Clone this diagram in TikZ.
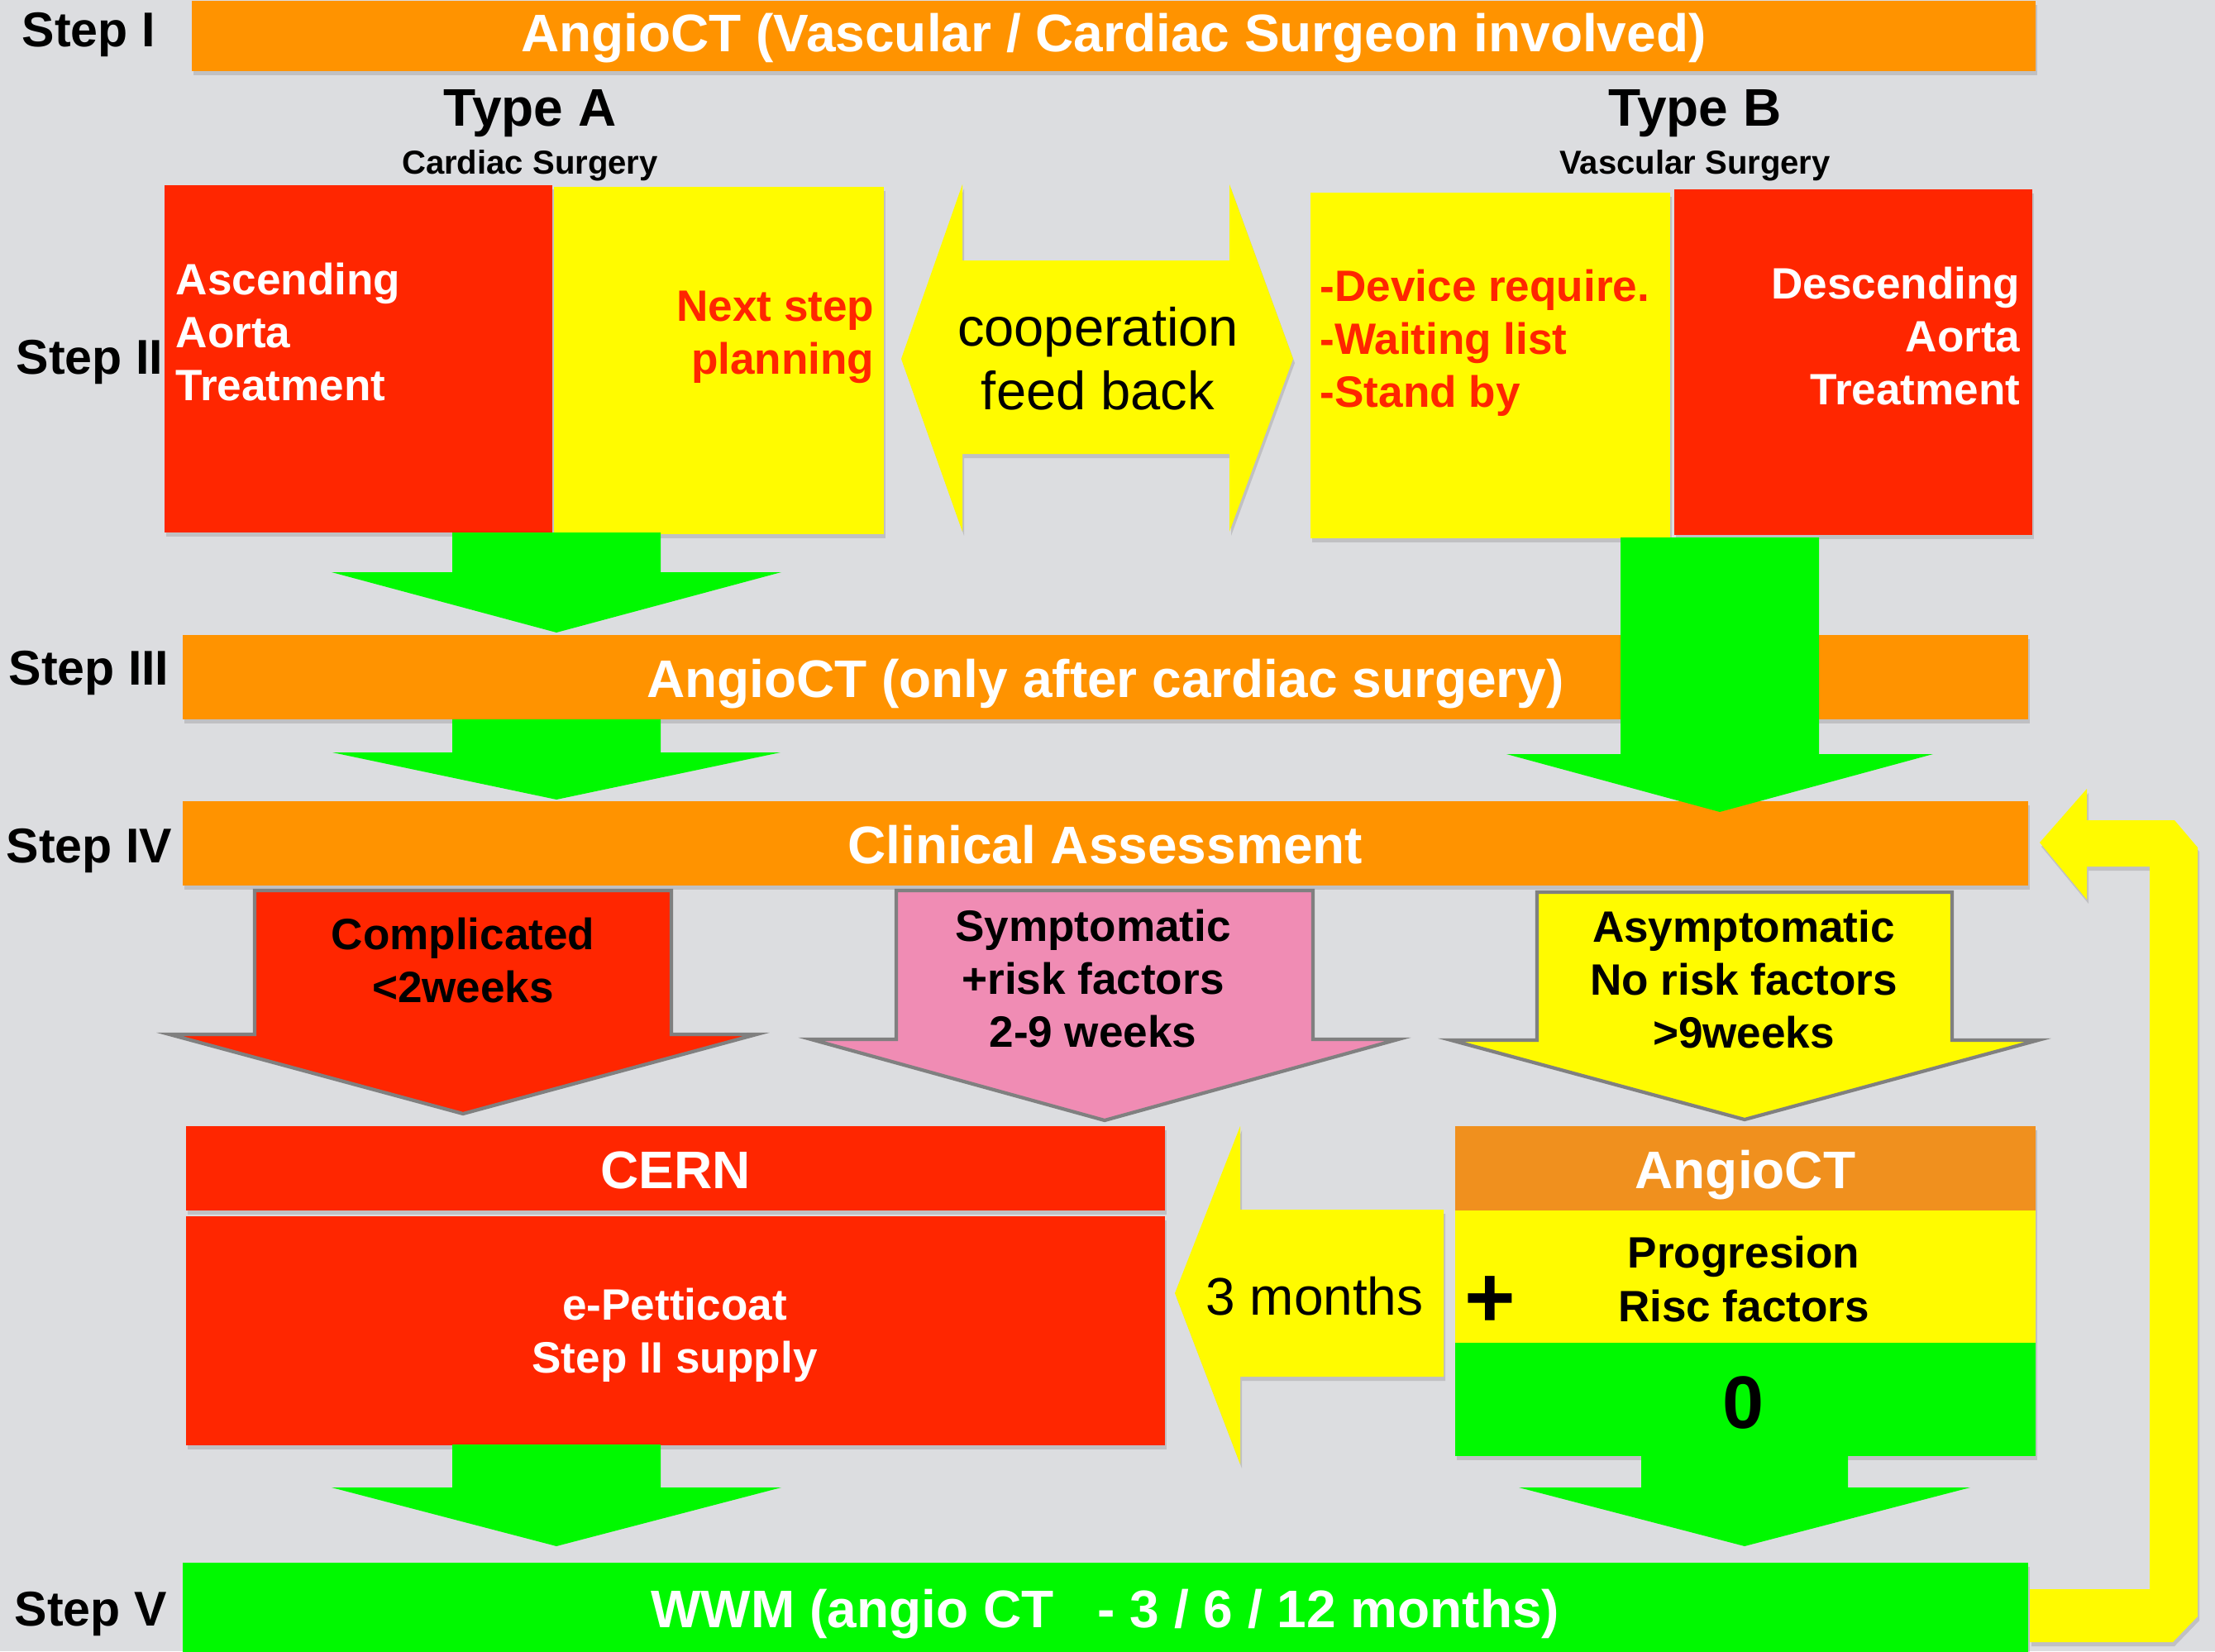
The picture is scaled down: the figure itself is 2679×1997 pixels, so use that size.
\documentclass[tikz,border=0pt]{standalone}
\usepackage{fontspec}
\setmainfont{Liberation Sans}
\usetikzlibrary{positioning,shadows}
\definecolor{bgray}{RGB}{220,221,224}
\definecolor{orange}{RGB}{255,147,0}
\definecolor{darkorange}{RGB}{240,144,30}
\definecolor{red}{RGB}{255,38,0}
\definecolor{yellow}{RGB}{255,251,0}
\definecolor{green}{RGB}{0,249,0}
\definecolor{pink}{RGB}{240,140,180}
\definecolor{edgegray}{RGB}{128,128,128}

\newcommand{\fbig}{\fontsize{18.2}{21}\selectfont}
\newcommand{\fmid}{\fontsize{15.1}{18.2}\selectfont}
\newcommand{\fstep}{\fontsize{16.8}{20}\selectfont}
\newcommand{\fsub}{\fontsize{11.4}{13}\selectfont}
\newcommand{\fcoop}{\fontsize{18.5}{21.9}\selectfont}
% block arrow pointing down: style, centre x, top, head base, tip, half shaft, half head
\newcommand{\dnarrow}[7]{%
  \fill[#1] (#2-#6,#3) -- (#2+#6,#3) -- (#2+#6,#4) -- (#2+#7,#4)
    -- (#2,#5) -- (#2-#7,#4) -- (#2-#6,#4) -- cycle;}

\begin{document}
\begin{tikzpicture}[x=0.01cm,y=-0.01cm]
  \tikzstyle{shade}=[drop shadow={shadow xshift=0.02cm,shadow yshift=-0.05cm,opacity=0.3}]
  \tikzstyle{bar}=[rectangle,anchor=north west,inner sep=0pt,minimum width=22.31cm,minimum height=1.02cm,fill=orange,text=white,font=\bfseries\fbig,text height=14.2pt,text depth=0pt,shade]
  \tikzstyle{box}=[rectangle,anchor=north west,inner sep=0pt,shade]
  \tikzstyle{header}=[box,minimum height=1.02cm,text=white,font=\bfseries\fbig,text height=14.2pt,text depth=0pt]
  \tikzstyle{steplabel}=[anchor=west,inner sep=0pt,font=\bfseries\fstep]
  \tikzstyle{txt}=[inner sep=0pt,font=\bfseries\fmid,align=center]
  \tikzstyle{regtext}=[inner sep=0pt,font=\fcoop,align=center]
  \tikzstyle{outlined}=[draw=edgegray,line width=1.2pt,line join=miter]

  \fill[bgray] (0,0) rectangle (2679,1997);
  \useasboundingbox (0,0) rectangle (2679,1997);

  \node[steplabel] (L1) at (26,42) {Step I};
  \node[steplabel] (L2) at (19,438) {Step II};
  \node[steplabel] (L3) at (10,814) {Step III};
  \node[steplabel] (L4) at (7,1029) {Step IV};
  \node[steplabel] (L5) at (17,1952) {Step V};

  \node[bar,minimum width=22.29cm,minimum height=0.85cm,text height=10.8pt] (S1) at (231,0) {AngioCT (Vascular / Cardiac Surgeon involved)};

  \node[inner sep=0pt,font=\bfseries\fbig] (TA) at (641,137) {Type A};
  \node[inner sep=0pt,font=\bfseries\fsub] (CS) at (641,200) {Cardiac Surgery};
  \node[inner sep=0pt,font=\bfseries\fbig] (TB) at (2050,137) {Type B};
  \node[inner sep=0pt,font=\bfseries\fsub] (VS) at (2050,200) {Vascular Surgery};

  \node[box,fill=red,minimum width=4.69cm,minimum height=4.20cm] (A1) at (198,223) {};
  \node[box,fill=yellow,minimum width=3.99cm,minimum height=4.20cm] (A2) at (669,225) {};
  \node[box,fill=yellow,minimum width=4.35cm,minimum height=4.18cm] (B1) at (1584,232) {};
  \node[box,fill=red,minimum width=4.33cm,minimum height=4.18cm] (B2) at (2024,228) {};

  \node[txt,anchor=west,align=left,text=white] (A1t) at (212,402) {Ascending\\Aorta\\Treatment};
  \node[txt,anchor=east,align=right,text=red] (A2t) at (1058,408) {Next step\\planning};
  \node[txt,anchor=west,align=left,text=red] (B1t) at (1596,415) {-Device require.\\-Waiting list\\-Stand by};
  \node[txt,anchor=east,align=right,text=white] (B2t) at (2444,407) {Descending\\Aorta\\Treatment};

  \fill[yellow,shade] (1090,434) -- (1164,223) -- (1164,315) -- (1487,315) -- (1487,223)
    -- (1564,434) -- (1487,643) -- (1487,549) -- (1164,549) -- (1164,643) -- cycle;
  \node[regtext] (CF) at (1328,434) {cooperation\\feed back};

  \dnarrow{green}{673}{644}{692}{765}{126}{272}

  \node[bar] (S3) at (220,767) {AngioCT (only after cardiac surgery)};
  \node[bar] (S4) at (220,968) {Clinical Assessment};

  \dnarrow{green}{673}{870}{910}{967}{126}{271}
  \dnarrow{green}{2080}{650}{912}{982}{120}{258}

  \dnarrow{red,outlined}{560}{1077}{1251}{1347}{252}{355}
  \dnarrow{pink,outlined}{1336}{1077}{1257}{1355}{252}{355}
  \dnarrow{yellow,outlined}{2110}{1079}{1258}{1354}{251}{355}
  \node[txt] (CO) at (560,1162) {Complicated\\<2weeks};
  \node[txt] (SY) at (1322,1184) {Symptomatic\\+risk factors\\2-9 weeks};
  \node[txt] (AS) at (2109,1185) {Asymptomatic\\No risk factors\\>9weeks};

  \node[header,fill=red,minimum width=11.84cm] (C1) at (224,1361) {CERN};
  \node[box,fill=red,minimum width=11.84cm,minimum height=2.77cm] (C2) at (224,1470) {};
  \node[txt,text=white] (C2t) at (816,1615) {e-Petticoat\\Step II supply};

  \node[header,fill=darkorange,minimum width=7.02cm] (D1) at (1759,1361) {AngioCT};
  \node[box,fill=yellow,minimum width=7.02cm,minimum height=1.60cm] (D2) at (1759,1463) {};
  \node[box,fill=green,minimum width=7.02cm,minimum height=1.37cm] (D3) at (1759,1623) {};
  \node[txt] (D2t) at (2109,1547) {Progresion\\Risc factors};
  \node[inner sep=0pt,font=\bfseries\fontsize{25.6}{28}\selectfont] (D3t) at (2109,1696) {0};
  \node[inner sep=0pt,font=\bfseries\fontsize{30}{30}\selectfont] (PL) at (1802,1575) {+};

  \fill[yellow,shade] (1421,1564) -- (1500,1362) -- (1500,1463) -- (1746,1463) -- (1746,1665)
    -- (1500,1665) -- (1500,1771) -- cycle;
  \node[regtext,font=\fbig] (TM) at (1590,1568) {3 months};

  \dnarrow{green}{673}{1747}{1799}{1870}{126}{272}
  \dnarrow{green}{2110}{1760}{1799}{1870}{125}{273}

  \fill[yellow,shade] (2455,1922) -- (2600,1922) -- (2600,1048) -- (2524,1048) -- (2524,1088)
    -- (2467,1019) -- (2524,954) -- (2524,992) -- (2630,992) -- (2658,1025) -- (2658,1955)
    -- (2628,1986) -- (2455,1986) -- cycle;

  \node[bar,fill=green,minimum height=1.08cm] (S5) at (220,1889) {WWM (angio CT \ \ - 3 / 6 / 12 months)};
\end{tikzpicture}
\end{document}
